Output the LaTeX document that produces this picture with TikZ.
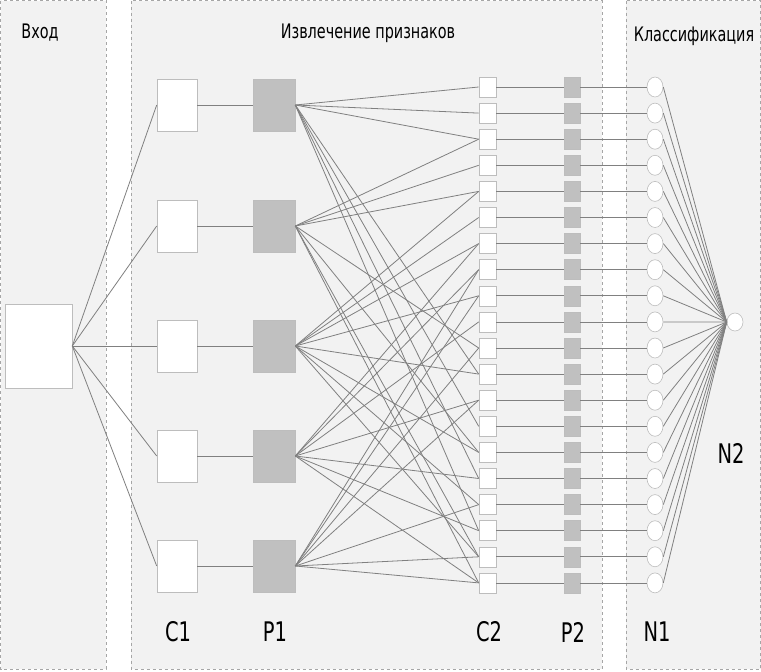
\documentclass[tikz,border=0pt]{standalone}
\usepackage{fontspec}
\setmainfont[FakeStretch=0.72]{DejaVu Sans}
\usepackage{tikz}
\usetikzlibrary{shapes.geometric}
\definecolor{panelbg}{HTML}{F2F2F2}
\definecolor{panelrule}{HTML}{A6A6A6}
\definecolor{linkgray}{HTML}{808080}
\definecolor{boxrule}{HTML}{BDBDBD}
\definecolor{mapgray}{HTML}{C0C0C0}
\tikzset{
  panel/.style    = {fill=panelbg, draw=panelrule, dashed, line width=0.6pt},
  ttl/.style      = {font=\fontsize{20}{22}\selectfont, inner sep=0pt},
  lay/.style      = {font=\fontsize{27}{30}\selectfont, inner sep=0pt},
  inbox/.style    = {draw=boxrule, fill=white, minimum width=67pt, minimum height=84pt, inner sep=0pt, line width=0.6pt},
  cbig/.style     = {draw=boxrule, fill=white, minimum width=40pt, minimum height=52pt, inner sep=0pt, line width=0.6pt},
  pbig/.style     = {draw=boxrule, fill=mapgray, minimum width=42pt, minimum height=52pt, inner sep=0pt, line width=0.6pt},
  csmall/.style   = {draw=boxrule, fill=white, minimum width=17pt, minimum height=20pt, inner sep=0pt, line width=0.6pt},
  psmall/.style   = {draw=boxrule, fill=mapgray, minimum width=16pt, minimum height=20pt, inner sep=0pt, line width=0.6pt},
  neuron/.style   = {ellipse, draw=boxrule, fill=white, minimum width=16pt, minimum height=20pt, inner sep=0pt, line width=0.6pt},
  link/.style     = {draw=linkgray, line width=0.8pt},
}

\begin{document}
\begin{tikzpicture}[x=1pt,y=-1pt]
  \useasboundingbox (0,0) rectangle (761,672);
  \fill[white] (0,0) rectangle (761,672);

  % panels
  \draw[panel] (0.5,0.5) rectangle (106,669);
  \draw[panel] (131,0.5) rectangle (602,669);
  \draw[panel] (626,0.5) rectangle (760.5,669);
  \node[ttl] (t-in)  at (40,33)  {Вход};
  \node[ttl] (t-ext) at (368,33) {Извлечение признаков};
  \node[ttl] (t-cls) at (694,36) {Классификация};

  % input and first stage
  \node[inbox] (in) at (38.5,346) {};
  \foreach \y [count=\i] in {105,226,346,456,566} {
    \node[cbig] (c1-\i) at (177,\y) {};
    \node[pbig] (p1-\i) at (274,\y) {};
    \draw[link] (in.east) -- (c1-\i.west);
    \draw[link] (c1-\i.east) -- (p1-\i.west);
  }

  % second stage
  \node[neuron, minimum width=16pt, minimum height=18pt] (n2) at (735,322) {};
  \foreach \j in {1,...,20} {
    \pgfmathsetmacro{\yy}{87+(\j-1)*26.1}
    \node[csmall] (c2-\j) at (487.5,\yy) {};
    \node[psmall] (p2-\j) at (572,\yy) {};
    \node[neuron] (n1-\j) at (655,\yy) {};
    \draw[link] (c2-\j.east) -- (p2-\j.west);
    \draw[link] (p2-\j.east) -- (n1-\j.west);
    \draw[link] (n1-\j.east) -- (n2.west);
  }

  % p1 -> c2 table
  \foreach \i/\targets in {1/{1,2,3,12,14,16,18},
                           2/{3,4,5,11,15,19,20},
                           3/{5,6,7,9,12,15,17,19},
                           4/{7,8,10,13,16,18,20},
                           5/{8,9,11,13,17,19,20}} {
    \foreach \j in \targets {
      \draw[link] (p1-\i.east) -- (c2-\j.west);
    }
  }

  % layer names
  \node[lay] (l-c1) at (178,632) {C1};
  \node[lay] (l-p1) at (275,632) {P1};
  \node[lay] (l-c2) at (489,632) {C2};
  \node[lay] (l-p2) at (573,632) {P2};
  \node[lay] (l-n1) at (657,632) {N1};
  \node[lay] (l-n2) at (731,453) {N2};
\end{tikzpicture}
\end{document}
